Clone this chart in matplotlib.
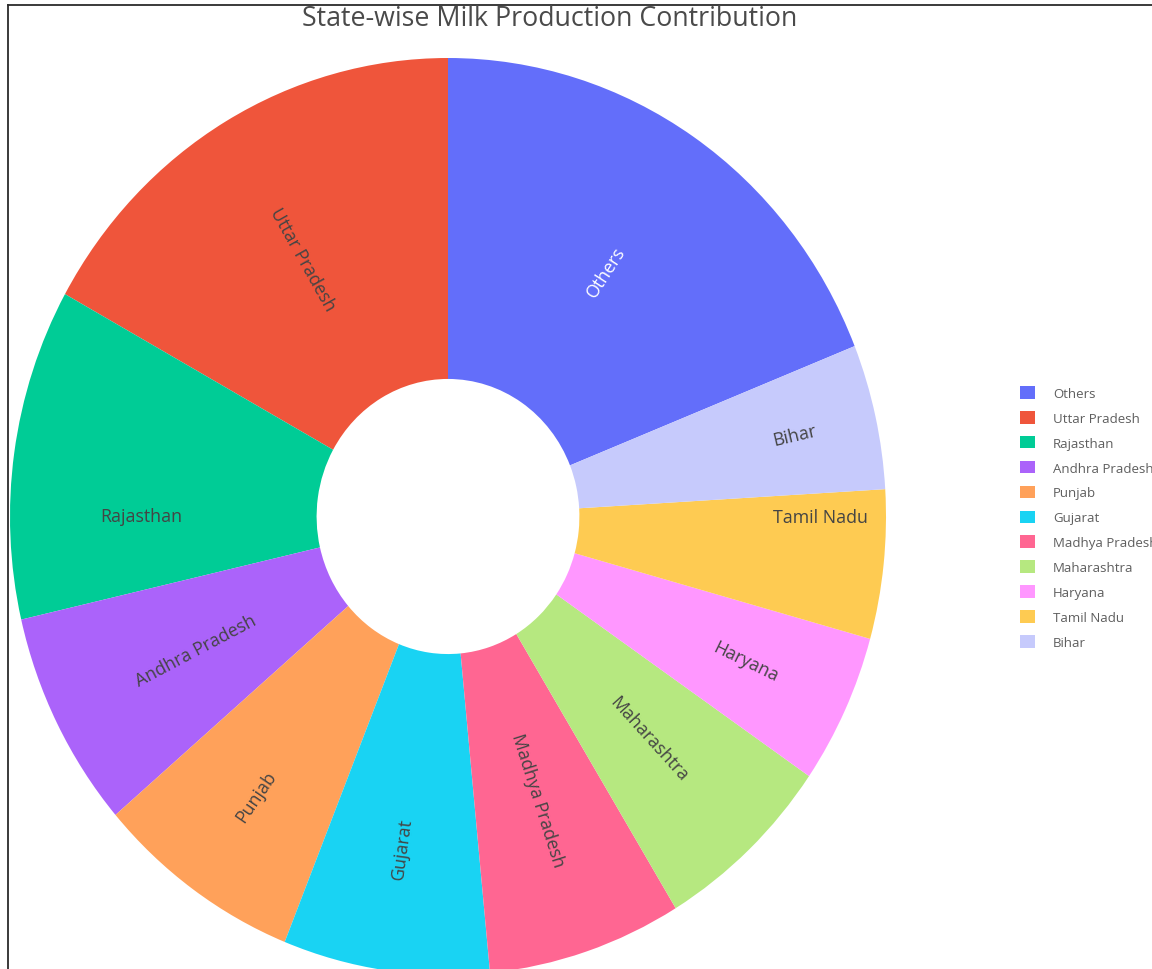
import numpy as np
import matplotlib
matplotlib.use("Agg")
import matplotlib.pyplot as plt
from matplotlib.lines import Line2D

plt.rcParams["font.family"] = ["Open Sans", "DejaVu Sans"]

# Share of national milk production (%), largest first
states = ["Others", "Uttar Pradesh", "Rajasthan", "Andhra Pradesh", "Punjab",
          "Gujarat", "Madhya Pradesh", "Maharashtra", "Haryana", "Tamil Nadu", "Bihar"]
share = [18.94, 16.94, 11.67, 7.67, 7.64, 7.61, 7.17, 6.72, 5.28, 5.25, 5.11]
colors = ["#636EFA", "#EF553B", "#00CC96", "#AB63FA", "#FFA15A", "#19D3F3",
          "#FF6692", "#B6E880", "#FF97FF", "#FECB52", "#C6CAFC"]

# label placement inside each slice: radius, orientation, angular nudge (deg)
label_style = {
    "Others": (0.645, "radial", 0),
    "Uttar Pradesh": (0.652, "radial", 0),
    "Rajasthan": (0.70, "horizontal", 8),
    "Andhra Pradesh": (0.645, "radial", 0),
    "Punjab": (0.75, "radial", 0),
    "Gujarat": (0.73, "radial", 0),
    "Madhya Pradesh": (0.65, "radial", 0),
    "Maharashtra": (0.667, "radial", 0),
    "Haryana": (0.75, "radial", 0),
    "Tamil Nadu": (0.85, "horizontal", 6),
    "Bihar": (0.81, "radial", 0),
}

W, H = 1152, 970
fig = plt.figure(figsize=(W / 100, H / 100), dpi=100)

# donut area in pixels (slightly taller than wide)
left_px, right_px, top_px, bottom_px = 10, 886, 59, 976
ax = fig.add_axes([left_px / W, (H - bottom_px) / H,
                   (right_px - left_px) / W, (bottom_px - top_px) / H])

total = float(np.sum(share))
start = 90 - 360 * share[0] / total
wedges, _ = ax.pie(share, colors=colors, startangle=start, counterclock=True,
                   radius=1.0, wedgeprops=dict(width=0.7, linewidth=0))
ax.set_aspect("auto")
ax.set_xlim(-1, 1)
ax.set_ylim(-1, 1)
ax.axis("off")

rx = (right_px - left_px) / 2
ry = (bottom_px - top_px) / 2
for w, name in zip(wedges, states):
    r, orient, nudge = label_style[name]
    mid = (w.theta1 + w.theta2) / 2 + nudge
    a = np.deg2rad(mid)
    x, y = r * np.cos(a), r * np.sin(a)
    if orient == "horizontal":
        rot = 0
    else:
        rot = np.degrees(np.arctan2(ry * np.sin(a), rx * np.cos(a)))
        if rot > 90:
            rot -= 180
        elif rot <= -90:
            rot += 180
    tc = "white" if name == "Others" else "#444444"
    ax.text(x, y, name, rotation=rot, rotation_mode="anchor", ha="center",
            va="center", fontsize=12.8, color=tc)

fig.text(550 / W, 1 - 19 / H, "State-wise Milk Production Contribution",
         ha="center", va="center", fontsize=19.3, color="#4a4a4a")

leg = fig.legend(wedges, states, loc="upper left",
                 bbox_to_anchor=(1020 / W, 1 - 387 / H), frameon=False,
                 borderpad=0, borderaxespad=0, fontsize=9.5,
                 handlelength=1.1, handleheight=1.1, handletextpad=1.4,
                 labelspacing=0.84)
for t in leg.get_texts():
    t.set_color("#5e5e5e")

# frame edges along top and left
fig.add_artist(Line2D([8 / W, 1], [1 - 5.5 / H, 1 - 5.5 / H], color="#2b2b2b",
                      lw=1.3, transform=fig.transFigure))
fig.add_artist(Line2D([8 / W, 8 / W], [0, 1 - 5.5 / H], color="#2b2b2b",
                      lw=1.3, transform=fig.transFigure))

fig.savefig("out.png", dpi=100)
